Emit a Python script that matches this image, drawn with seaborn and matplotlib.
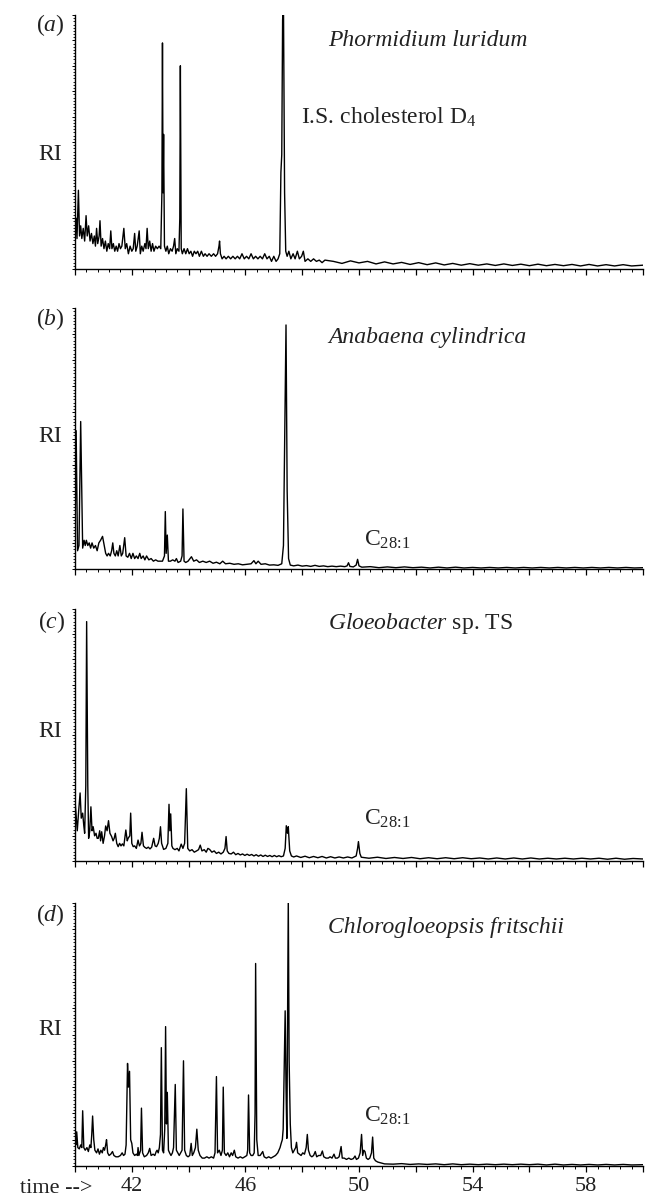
import numpy as np
import pandas as pd
import seaborn as sns
import matplotlib.pyplot as plt
from matplotlib.ticker import MultipleLocator

# chromatogram traces: (retention time in min, relative intensity)
trace_a = [
    (40.00, 0.14), (40.04, 0.20), (40.07, 0.12), (40.12, 0.31), (40.16, 0.13), (40.20, 0.17),
    (40.24, 0.12), (40.29, 0.16), (40.34, 0.11), (40.39, 0.21), (40.43, 0.13), (40.48, 0.17),
    (40.53, 0.11), (40.58, 0.14), (40.63, 0.10), (40.68, 0.13), (40.72, 0.09), (40.76, 0.16),
    (40.80, 0.10), (40.85, 0.13), (40.88, 0.19), (40.92, 0.09), (40.97, 0.12), (41.02, 0.08),
    (41.07, 0.11), (41.12, 0.07), (41.17, 0.10), (41.22, 0.08), (41.26, 0.15), (41.30, 0.08),
    (41.35, 0.10), (41.40, 0.07), (41.45, 0.09), (41.50, 0.07), (41.55, 0.10), (41.60, 0.08),
    (41.65, 0.09), (41.72, 0.16), (41.77, 0.08), (41.82, 0.10), (41.88, 0.06), (41.94, 0.09),
    (42.00, 0.07), (42.05, 0.08), (42.10, 0.14), (42.14, 0.07), (42.19, 0.09), (42.26, 0.15),
    (42.30, 0.06), (42.35, 0.09), (42.40, 0.07), (42.46, 0.10), (42.50, 0.08), (42.54, 0.16),
    (42.58, 0.08), (42.63, 0.11), (42.68, 0.07), (42.73, 0.10), (42.78, 0.07), (42.84, 0.09),
    (42.90, 0.08), (42.96, 0.09), (43.02, 0.08), (43.06, 0.30), (43.08, 0.89), (43.10, 0.30),
    (43.12, 0.53), (43.15, 0.09), (43.20, 0.07), (43.25, 0.09), (43.30, 0.06), (43.36, 0.08),
    (43.42, 0.07), (43.47, 0.09), (43.51, 0.12), (43.55, 0.06), (43.60, 0.08), (43.66, 0.07),
    (43.69, 0.20), (43.71, 0.80), (43.74, 0.08), (43.78, 0.06), (43.84, 0.08), (43.90, 0.06),
    (43.96, 0.08), (44.02, 0.06), (44.08, 0.07), (44.14, 0.05), (44.20, 0.07), (44.26, 0.06),
    (44.32, 0.07), (44.38, 0.05), (44.45, 0.07), (44.52, 0.05), (44.58, 0.06), (44.65, 0.05),
    (44.72, 0.06), (44.80, 0.05), (44.88, 0.06), (44.95, 0.05), (45.02, 0.06), (45.07, 0.09),
    (45.09, 0.11), (45.12, 0.06), (45.18, 0.04), (45.25, 0.05), (45.32, 0.04), (45.40, 0.05),
    (45.48, 0.04), (45.56, 0.05), (45.64, 0.04), (45.72, 0.05), (45.80, 0.04), (45.88, 0.06),
    (45.96, 0.04), (46.04, 0.05), (46.12, 0.04), (46.20, 0.06), (46.28, 0.04), (46.36, 0.05),
    (46.44, 0.04), (46.52, 0.05), (46.60, 0.04), (46.68, 0.06), (46.76, 0.04), (46.84, 0.05),
    (46.92, 0.03), (47.00, 0.05), (47.08, 0.03), (47.15, 0.04), (47.21, 0.06), (47.25, 0.38),
    (47.28, 0.45), (47.31, 0.98), (47.34, 1.05), (47.38, 0.30), (47.42, 0.07), (47.47, 0.05),
    (47.53, 0.07), (47.60, 0.04), (47.68, 0.06), (47.75, 0.04), (47.83, 0.07), (47.90, 0.04),
    (47.98, 0.05), (48.04, 0.07), (48.10, 0.03), (48.20, 0.04), (48.30, 0.03), (48.40, 0.04),
    (48.50, 0.03), (48.60, 0.035), (48.70, 0.025), (48.80, 0.035), (49.10, 0.03), (49.40, 0.022),
    (49.70, 0.032), (50.00, 0.024), (50.30, 0.03), (50.60, 0.02), (50.90, 0.028), (51.20, 0.02),
    (51.50, 0.026), (51.80, 0.018), (52.10, 0.025), (52.40, 0.017), (52.70, 0.024), (53.00, 0.016),
    (53.30, 0.022), (53.60, 0.015), (53.90, 0.021), (54.20, 0.015), (54.50, 0.02), (54.80, 0.014),
    (55.10, 0.02), (55.40, 0.014), (55.70, 0.019), (56.00, 0.013), (56.30, 0.019), (56.60, 0.013),
    (56.90, 0.018), (57.20, 0.013), (57.50, 0.018), (57.80, 0.012), (58.10, 0.018), (58.40, 0.012),
    (58.70, 0.017), (59.00, 0.012), (59.30, 0.017), (59.60, 0.012), (60.00, 0.015),
]

trace_b = [
    (40.00, 0.10), (40.04, 0.53), (40.09, 0.07), (40.14, 0.09), (40.20, 0.565), (40.27, 0.08),
    (40.32, 0.11), (40.36, 0.09), (40.40, 0.11), (40.45, 0.09), (40.50, 0.10), (40.55, 0.08),
    (40.60, 0.10), (40.66, 0.08), (40.72, 0.09), (40.78, 0.07), (40.84, 0.10), (40.90, 0.11),
    (40.97, 0.125), (41.03, 0.09), (41.08, 0.06), (41.13, 0.05), (41.18, 0.06), (41.24, 0.05),
    (41.29, 0.07), (41.33, 0.10), (41.37, 0.06), (41.42, 0.05), (41.47, 0.07), (41.52, 0.05),
    (41.58, 0.09), (41.63, 0.05), (41.68, 0.06), (41.75, 0.12), (41.80, 0.05), (41.86, 0.045),
    (41.92, 0.06), (41.98, 0.04), (42.04, 0.06), (42.10, 0.04), (42.16, 0.05), (42.22, 0.04),
    (42.28, 0.06), (42.33, 0.04), (42.40, 0.05), (42.46, 0.035), (42.52, 0.05), (42.60, 0.035),
    (42.68, 0.04), (42.76, 0.03), (42.84, 0.035), (42.92, 0.03), (43.00, 0.03), (43.08, 0.03),
    (43.15, 0.05), (43.18, 0.22), (43.21, 0.06), (43.25, 0.13), (43.29, 0.03), (43.36, 0.03),
    (43.44, 0.035), (43.52, 0.03), (43.57, 0.04), (43.63, 0.025), (43.72, 0.03), (43.77, 0.05),
    (43.80, 0.23), (43.84, 0.03), (43.90, 0.025), (43.98, 0.03), (44.05, 0.04), (44.10, 0.047),
    (44.18, 0.03), (44.28, 0.035), (44.38, 0.025), (44.50, 0.03), (44.62, 0.025), (44.74, 0.03),
    (44.86, 0.022), (44.98, 0.026), (45.10, 0.02), (45.20, 0.03), (45.30, 0.02), (45.45, 0.022),
    (45.60, 0.018), (45.75, 0.02), (45.90, 0.016), (46.05, 0.018), (46.20, 0.02), (46.30, 0.032),
    (46.37, 0.02), (46.45, 0.03), (46.55, 0.018), (46.70, 0.02), (46.85, 0.015), (47.00, 0.016),
    (47.15, 0.014), (47.28, 0.02), (47.34, 0.09), (47.38, 0.45), (47.43, 0.935), (47.47, 0.30),
    (47.52, 0.04), (47.58, 0.015), (47.70, 0.012), (47.85, 0.015), (48.00, 0.011), (48.15, 0.013),
    (48.30, 0.010), (48.45, 0.014), (48.60, 0.010), (48.75, 0.012), (48.90, 0.009), (49.05, 0.011),
    (49.20, 0.009), (49.35, 0.011), (49.50, 0.009), (49.58, 0.012), (49.63, 0.024), (49.68, 0.010),
    (49.80, 0.008), (49.90, 0.015), (49.95, 0.037), (50.00, 0.012), (50.10, 0.007), (50.40, 0.009),
    (50.70, 0.005), (51.00, 0.008), (51.30, 0.005), (51.60, 0.008), (51.90, 0.005), (52.20, 0.007),
    (52.50, 0.004), (52.80, 0.007), (53.10, 0.004), (53.40, 0.007), (53.70, 0.004), (54.00, 0.006),
    (54.30, 0.004), (54.60, 0.006), (54.90, 0.004), (55.20, 0.006), (55.50, 0.004), (55.80, 0.006),
    (56.10, 0.004), (56.40, 0.006), (56.70, 0.004), (57.00, 0.006), (57.30, 0.004), (57.60, 0.006),
    (57.90, 0.004), (58.20, 0.006), (58.50, 0.004), (58.80, 0.006), (59.10, 0.004), (59.40, 0.006),
    (59.70, 0.004), (60.00, 0.005),
]

trace_c = [
    (40.00, 0.24), (40.04, 0.18), (40.08, 0.12), (40.13, 0.20), (40.18, 0.27), (40.22, 0.17),
    (40.27, 0.19), (40.31, 0.14), (40.34, 0.11), (40.38, 0.30), (40.41, 0.95), (40.45, 0.30),
    (40.48, 0.09), (40.52, 0.12), (40.56, 0.215), (40.60, 0.12), (40.64, 0.136), (40.69, 0.10),
    (40.74, 0.11), (40.78, 0.09), (40.82, 0.09), (40.87, 0.12), (40.90, 0.08), (40.94, 0.116),
    (40.99, 0.07), (41.04, 0.10), (41.08, 0.139), (41.13, 0.12), (41.18, 0.16), (41.23, 0.11),
    (41.29, 0.097), (41.34, 0.08), (41.38, 0.09), (41.42, 0.11), (41.47, 0.07), (41.52, 0.057),
    (41.57, 0.07), (41.62, 0.06), (41.67, 0.068), (41.72, 0.06), (41.79, 0.123), (41.84, 0.08),
    (41.87, 0.09), (41.93, 0.10), (41.96, 0.19), (42.00, 0.07), (42.05, 0.057), (42.10, 0.06),
    (42.16, 0.05), (42.22, 0.083), (42.27, 0.06), (42.32, 0.07), (42.36, 0.114), (42.41, 0.06),
    (42.46, 0.054), (42.52, 0.05), (42.58, 0.055), (42.64, 0.048), (42.70, 0.055), (42.77, 0.09),
    (42.82, 0.06), (42.87, 0.057), (42.93, 0.07), (42.97, 0.09), (43.01, 0.136), (43.05, 0.07),
    (43.12, 0.046), (43.20, 0.05), (43.27, 0.07), (43.31, 0.225), (43.34, 0.12), (43.37, 0.187),
    (43.41, 0.06), (43.45, 0.05), (43.52, 0.045), (43.60, 0.05), (43.66, 0.04), (43.74, 0.067),
    (43.80, 0.05), (43.86, 0.07), (43.92, 0.287), (43.97, 0.05), (44.04, 0.04), (44.12, 0.045),
    (44.20, 0.035), (44.28, 0.04), (44.35, 0.045), (44.41, 0.063), (44.47, 0.04), (44.55, 0.045),
    (44.62, 0.035), (44.68, 0.05), (44.74, 0.046), (44.82, 0.035), (44.90, 0.04), (44.98, 0.03),
    (45.06, 0.035), (45.14, 0.028), (45.22, 0.035), (45.28, 0.05), (45.32, 0.097), (45.36, 0.04),
    (45.42, 0.03), (45.50, 0.028), (45.58, 0.035), (45.66, 0.025), (45.74, 0.03), (45.82, 0.024),
    (45.90, 0.028), (45.98, 0.022), (46.06, 0.027), (46.14, 0.022), (46.22, 0.026), (46.30, 0.02),
    (46.38, 0.025), (46.46, 0.019), (46.54, 0.024), (46.62, 0.018), (46.70, 0.023), (46.78, 0.018),
    (46.86, 0.022), (46.94, 0.017), (47.02, 0.022), (47.10, 0.017), (47.18, 0.021), (47.26, 0.017),
    (47.34, 0.02), (47.40, 0.05), (47.44, 0.14), (47.48, 0.11), (47.51, 0.136), (47.56, 0.04),
    (47.62, 0.02), (47.70, 0.016), (47.80, 0.02), (47.95, 0.014), (48.10, 0.019), (48.25, 0.013),
    (48.40, 0.018), (48.55, 0.013), (48.70, 0.018), (48.85, 0.012), (49.00, 0.017), (49.15, 0.012),
    (49.30, 0.016), (49.45, 0.012), (49.60, 0.016), (49.75, 0.012), (49.90, 0.02), (49.95, 0.05),
    (49.98, 0.077), (50.03, 0.03), (50.08, 0.015), (50.35, 0.011), (50.65, 0.015), (50.95, 0.010),
    (51.25, 0.014), (51.55, 0.010), (51.85, 0.014), (52.15, 0.009), (52.45, 0.013), (52.75, 0.009),
    (53.05, 0.013), (53.35, 0.009), (53.65, 0.013), (53.95, 0.009), (54.25, 0.012), (54.55, 0.008),
    (54.85, 0.012), (55.15, 0.008), (55.45, 0.012), (55.75, 0.008), (56.05, 0.012), (56.35, 0.008),
    (56.65, 0.011), (56.95, 0.008), (57.25, 0.011), (57.55, 0.008), (57.85, 0.011), (58.15, 0.008),
    (58.45, 0.011), (58.75, 0.007), (59.05, 0.011), (59.35, 0.007), (59.65, 0.010), (60.00, 0.008),
]

trace_d = [
    (40.00, 0.10), (40.03, 0.08), (40.06, 0.13), (40.10, 0.07), (40.15, 0.065), (40.20, 0.08),
    (40.24, 0.07), (40.27, 0.21), (40.31, 0.07), (40.36, 0.06), (40.42, 0.07), (40.47, 0.055),
    (40.52, 0.08), (40.56, 0.07), (40.59, 0.12), (40.62, 0.19), (40.66, 0.10), (40.70, 0.06),
    (40.76, 0.05), (40.81, 0.065), (40.86, 0.045), (40.91, 0.06), (40.96, 0.05), (41.00, 0.07),
    (41.04, 0.06), (41.08, 0.08), (41.11, 0.10), (41.15, 0.05), (41.20, 0.04), (41.26, 0.045),
    (41.32, 0.055), (41.37, 0.04), (41.44, 0.035), (41.52, 0.035), (41.60, 0.04), (41.66, 0.05),
    (41.71, 0.04), (41.76, 0.045), (41.80, 0.08), (41.85, 0.39), (41.88, 0.30), (41.92, 0.36),
    (41.96, 0.10), (42.00, 0.086), (42.04, 0.05), (42.10, 0.04), (42.16, 0.045), (42.20, 0.04),
    (42.22, 0.07), (42.25, 0.04), (42.31, 0.06), (42.34, 0.22), (42.38, 0.05), (42.44, 0.035),
    (42.52, 0.04), (42.58, 0.05), (42.63, 0.067), (42.68, 0.04), (42.75, 0.045), (42.81, 0.04),
    (42.86, 0.055), (42.89, 0.06), (42.93, 0.05), (42.97, 0.07), (43.01, 0.12), (43.04, 0.45),
    (43.08, 0.06), (43.12, 0.05), (43.16, 0.14), (43.19, 0.53), (43.22, 0.16), (43.25, 0.28),
    (43.29, 0.06), (43.33, 0.05), (43.38, 0.04), (43.43, 0.05), (43.47, 0.07), (43.53, 0.31),
    (43.57, 0.06), (43.62, 0.05), (43.67, 0.04), (43.72, 0.05), (43.77, 0.06), (43.82, 0.40),
    (43.86, 0.06), (43.92, 0.04), (43.98, 0.035), (44.04, 0.04), (44.09, 0.086), (44.13, 0.04),
    (44.18, 0.05), (44.24, 0.07), (44.29, 0.14), (44.34, 0.06), (44.40, 0.04), (44.48, 0.03),
    (44.56, 0.03), (44.64, 0.035), (44.72, 0.03), (44.80, 0.035), (44.88, 0.03), (44.93, 0.05),
    (44.98, 0.34), (45.02, 0.05), (45.08, 0.06), (45.14, 0.04), (45.19, 0.06), (45.22, 0.30),
    (45.26, 0.05), (45.32, 0.04), (45.38, 0.05), (45.44, 0.035), (45.50, 0.05), (45.55, 0.04),
    (45.61, 0.06), (45.66, 0.035), (45.74, 0.03), (45.82, 0.035), (45.90, 0.03), (45.98, 0.035),
    (46.05, 0.04), (46.08, 0.06), (46.11, 0.27), (46.15, 0.05), (46.20, 0.04), (46.26, 0.04),
    (46.31, 0.05), (46.34, 0.20), (46.36, 0.77), (46.40, 0.10), (46.45, 0.04), (46.52, 0.04),
    (46.58, 0.05), (46.61, 0.055), (46.66, 0.035), (46.74, 0.03), (46.82, 0.035), (46.90, 0.03),
    (46.98, 0.035), (47.06, 0.04), (47.14, 0.05), (47.22, 0.07), (47.26, 0.086), (47.30, 0.10),
    (47.33, 0.14), (47.37, 0.40), (47.40, 0.59), (47.43, 0.30), (47.46, 0.105), (47.49, 0.70),
    (47.51, 1.02), (47.54, 0.40), (47.58, 0.16), (47.62, 0.07), (47.67, 0.05), (47.72, 0.06),
    (47.77, 0.07), (47.80, 0.09), (47.84, 0.05), (47.90, 0.045), (47.96, 0.04), (48.02, 0.05),
    (48.08, 0.045), (48.14, 0.07), (48.18, 0.12), (48.22, 0.06), (48.28, 0.04), (48.34, 0.035),
    (48.40, 0.04), (48.46, 0.055), (48.51, 0.035), (48.58, 0.04), (48.65, 0.04), (48.71, 0.057),
    (48.76, 0.035), (48.84, 0.03), (48.92, 0.03), (48.98, 0.035), (49.05, 0.03), (49.12, 0.045),
    (49.17, 0.03), (49.24, 0.03), (49.30, 0.035), (49.37, 0.074), (49.41, 0.03), (49.48, 0.03),
    (49.56, 0.025), (49.64, 0.03), (49.72, 0.025), (49.80, 0.028), (49.86, 0.038), (49.91, 0.025),
    (49.98, 0.03), (50.04, 0.05), (50.09, 0.12), (50.13, 0.04), (50.17, 0.06), (50.21, 0.055),
    (50.26, 0.03), (50.32, 0.025), (50.38, 0.03), (50.44, 0.05), (50.48, 0.11), (50.52, 0.03),
    (50.58, 0.02), (50.66, 0.015), (50.76, 0.012), (50.90, 0.008), (51.20, 0.007), (51.50, 0.009),
    (51.80, 0.006), (52.10, 0.008), (52.40, 0.006), (52.70, 0.008), (53.00, 0.005), (53.30, 0.008),
    (53.60, 0.005), (53.90, 0.007), (54.20, 0.005), (54.50, 0.007), (54.80, 0.005), (55.10, 0.007),
    (55.40, 0.005), (55.70, 0.007), (56.00, 0.005), (56.30, 0.007), (56.60, 0.004), (56.90, 0.007),
    (57.20, 0.004), (57.50, 0.006), (57.80, 0.004), (58.10, 0.006), (58.40, 0.004), (58.70, 0.006),
    (59.00, 0.004), (59.30, 0.006), (59.60, 0.004), (60.00, 0.005),
]

panel_tags = ['a', 'b', 'c', 'd']
species = ['Phormidium luridum', 'Anabaena cylindrica', r'$\mathit{Gloeobacter}$ sp. TS',
           'Chlorogloeopsis fritschii']
species_italic = [True, True, False, True]
tick_values = [40, 42, 44, 46, 48, 50, 52, 54, 56, 58, 60]
tick_labels = ['', '42', '', '46', '', '50', '', '54', '', '58', '']
c28_label = r'C$_{\text{28:1}}$'

sns.set_style('ticks')
plt.rcParams['font.family'] = ['Liberation Serif', 'DejaVu Serif']
plt.rcParams['mathtext.fontset'] = 'custom'
plt.rcParams['mathtext.rm'] = 'Liberation Serif'
plt.rcParams['mathtext.it'] = 'Liberation Serif:italic'

W, H = 646, 1198
fig = plt.figure(figsize=(W / 100, H / 100), dpi=100)

# panel extents in pixels (top, bottom)
boxes = [(15, 269), (308, 569), (609, 861), (903, 1166)]
left_px, right_px = 75, 643


def fx(x):
    return x / W


def fy(y):
    return 1 - y / H


traces = [trace_a, trace_b, trace_c, trace_d]
for i, (top, bot) in enumerate(boxes):
    ax = fig.add_axes([fx(left_px), fy(bot), (right_px - left_px) / W, (bot - top) / H])
    df = pd.DataFrame(traces[i], columns=['time', 'ri'])
    sns.lineplot(data=df, x='time', y='ri', ax=ax, color='black', linewidth=1.0,
                 estimator=None, sort=False)
    ax.set_xlim(40, 60)
    ax.set_ylim(0, 1)
    ax.set_xlabel('')
    ax.set_ylabel('')
    sns.despine(ax=ax)
    for s in ['left', 'bottom']:
        ax.spines[s].set_linewidth(1.0)
        ax.spines[s].set_color('black')
    ax.set_xticks(tick_values)
    if i == 3:
        ax.set_xticklabels(tick_labels, fontsize=16, color='#222222')
    else:
        ax.set_xticklabels([''] * len(tick_values))
    ax.xaxis.set_minor_locator(MultipleLocator(0.4))
    ax.yaxis.set_major_locator(MultipleLocator(0.1))
    ax.yaxis.set_minor_locator(MultipleLocator(0.0125))
    ax.set_yticklabels([])
    ax.tick_params(axis='x', which='major', length=4, width=0.9, pad=4, color='black')
    ax.tick_params(axis='x', which='minor', length=2.5, width=0.7, color='black')
    ax.tick_params(axis='y', which='major', length=2.5, width=0.7, color='black')
    ax.tick_params(axis='y', which='minor', length=1.5, width=0.6, color='black')

txt = dict(fontsize=17, color='#222222')

# panel tags and RI labels
tag_base = [31, 325, 628, 921]
ri_base = [160, 442, 737, 1035]
for i in range(4):
    fig.text(fx(65), fy(tag_base[i]), '(' + r'$\mathit{' + panel_tags[i] + '}$' + ')',
             ha='right', va='baseline', **txt)
    fig.text(fx(62), fy(ri_base[i]), 'RI', ha='right', va='baseline', **txt)

# species names
sp_base = [46, 343, 629, 933]
for i in range(4):
    fig.text(fx(328), fy(sp_base[i]), species[i], ha='left', va='baseline',
             fontstyle='italic' if species_italic[i] else 'normal', **txt)

fig.text(fx(301), fy(124), r'I.S. cholesterol D$_4$', ha='left', va='baseline', **txt)

# C28:1 annotations
for i, yb in [(1, 546), (2, 825), (3, 1122)]:
    fig.text(fx(364), fy(yb), c28_label, ha='left', va='baseline', **txt)

fig.text(fx(93), fy(1193), 'time -->', ha='right', va='baseline', fontsize=16, color='#222222')

fig.savefig('out.png', dpi=100)
